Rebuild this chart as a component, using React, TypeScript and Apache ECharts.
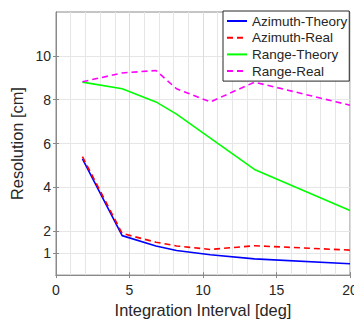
import React, { useEffect, useRef } from "react";
import * as echarts from "echarts";

const intervals = [1.8, 4.5, 6.8, 8.2, 10.5, 13.5, 20];
const azimuthTheory = [5.3, 1.8, 1.33, 1.12, 0.93, 0.74, 0.52];
const azimuthReal = [5.4, 1.9, 1.5, 1.33, 1.17, 1.34, 1.14];
const rangeTheory = [8.8, 8.5, 7.9, 7.34, 6.25, 4.82, 2.95];
const rangeReal = [8.82, 9.22, 9.33, 8.5, 7.9, 8.8, 7.75];
const yTickValues = [1, 2, 4, 6, 8, 10];
const xTitle = "Integration Interval [deg]";
const yTitle = "Resolution [cm]";

const pairs = (ys: number[]) => intervals.map((x, i) => [x, ys[i]]);

export default function App() {
  const ref = useRef<HTMLDivElement>(null);
  useEffect(() => {
    if (!ref.current) return;
    const chart = echarts.init(ref.current, null, { renderer: "svg" });
    const font = "'Liberation Sans', Arial, Helvetica, sans-serif";
    const axisGray = "#8a8a8a";
    const gridGray = "#e6e6e6";
    chart.setOption({
      animation: false,
      backgroundColor: "#ffffff",
      textStyle: { fontFamily: font },
      grid: {
        left: 56,
        right: 14,
        top: 12,
        bottom: 45,
        show: true,
        borderColor: axisGray,
        borderWidth: 1,
        backgroundColor: "#ffffff",
      },
      legend: {
        orient: "vertical",
        left: 223,
        top: 11,
        padding: [3, 2, 3, 3],
        itemWidth: 20,
        itemHeight: 14,
        itemGap: 2.7,
        borderColor: "#262626",
        borderWidth: 1,
        backgroundColor: "#ffffff",
        itemStyle: { opacity: 0 },
        textStyle: { fontSize: 13.5, color: "#262626", fontFamily: font },
        data: ["Azimuth-Theory", "Azimuth-Real", "Range-Theory", "Range-Real"],
      },
      xAxis: [
        {
          type: "value",
          min: 0,
          max: 20,
          interval: 5,
          name: xTitle,
          nameLocation: "middle",
          nameGap: 26,
          nameTextStyle: { fontSize: 16.4, color: "#262626", fontFamily: font },
          axisLine: { show: true, lineStyle: { color: axisGray } },
          axisTick: { show: true, inside: true, length: 3, lineStyle: { color: axisGray } },
          axisLabel: {
            fontSize: 14,
            color: "#262626",
            margin: 8,
            fontFamily: font,
            alignMaxLabel: "center",
            alignMinLabel: "center",
          },
          splitLine: { show: true, lineStyle: { color: "#dcdcdc" } },
          minorTick: { show: false, splitNumber: 5 },
          minorSplitLine: { show: true, lineStyle: { color: gridGray } },
        },
        {
          type: "value",
          position: "top",
          min: 0,
          max: 20,
          interval: 5,
          axisLine: { show: true, lineStyle: { color: axisGray } },
          axisTick: { show: true, inside: true, length: 3, lineStyle: { color: axisGray } },
          axisLabel: { show: false },
          splitLine: { show: false },
        },
      ],
      yAxis: [
        {
          type: "value",
          min: 0,
          max: 12,
          interval: 0.5,
          name: yTitle,
          nameLocation: "middle",
          nameGap: 26,
          nameTextStyle: { fontSize: 16.4, color: "#262626", fontFamily: font },
          axisLine: { show: true, lineStyle: { color: axisGray } },
          axisTick: {
            show: true,
            inside: true,
            length: 3,
            customValues: yTickValues,
            lineStyle: { color: axisGray },
          },
          axisLabel: {
            fontSize: 14,
            color: "#262626",
            margin: 5,
            customValues: yTickValues,
            fontFamily: font,
          },
          splitLine: { show: true, lineStyle: { color: gridGray } },
        },
        {
          type: "value",
          position: "right",
          min: 0,
          max: 12,
          interval: 0.5,
          axisLine: { show: true, lineStyle: { color: axisGray } },
          axisTick: {
            show: true,
            inside: true,
            length: 3,
            customValues: yTickValues,
            lineStyle: { color: axisGray },
          },
          axisLabel: { show: false },
          splitLine: { show: false },
        },
      ],
      series: [
        {
          name: "Azimuth-Theory",
          type: "line",
          data: pairs(azimuthTheory),
          symbol: "none",
          color: "#0000ff",
          lineStyle: { color: "#0000ff", width: 1.6 },
          z: 3,
        },
        {
          name: "Azimuth-Real",
          type: "line",
          data: pairs(azimuthReal),
          symbol: "none",
          color: "#ff0000",
          lineStyle: { color: "#ff0000", width: 1.6, type: [6, 4] },
          z: 4,
        },
        {
          name: "Range-Theory",
          type: "line",
          data: pairs(rangeTheory),
          symbol: "none",
          color: "#00ff00",
          lineStyle: { color: "#00ff00", width: 1.6 },
          z: 3,
        },
        {
          name: "Range-Real",
          type: "line",
          data: pairs(rangeReal),
          symbol: "none",
          color: "#ff00ff",
          lineStyle: { color: "#ff00ff", width: 1.6, type: [6, 4] },
          z: 4,
        },
      ],
    });
    return () => chart.dispose();
  }, []);
  return (
    <div
      ref={ref}
      style={{ position: "fixed", left: 0, top: 0, width: 364, height: 323, background: "#fff" }}
    />
  );
}
